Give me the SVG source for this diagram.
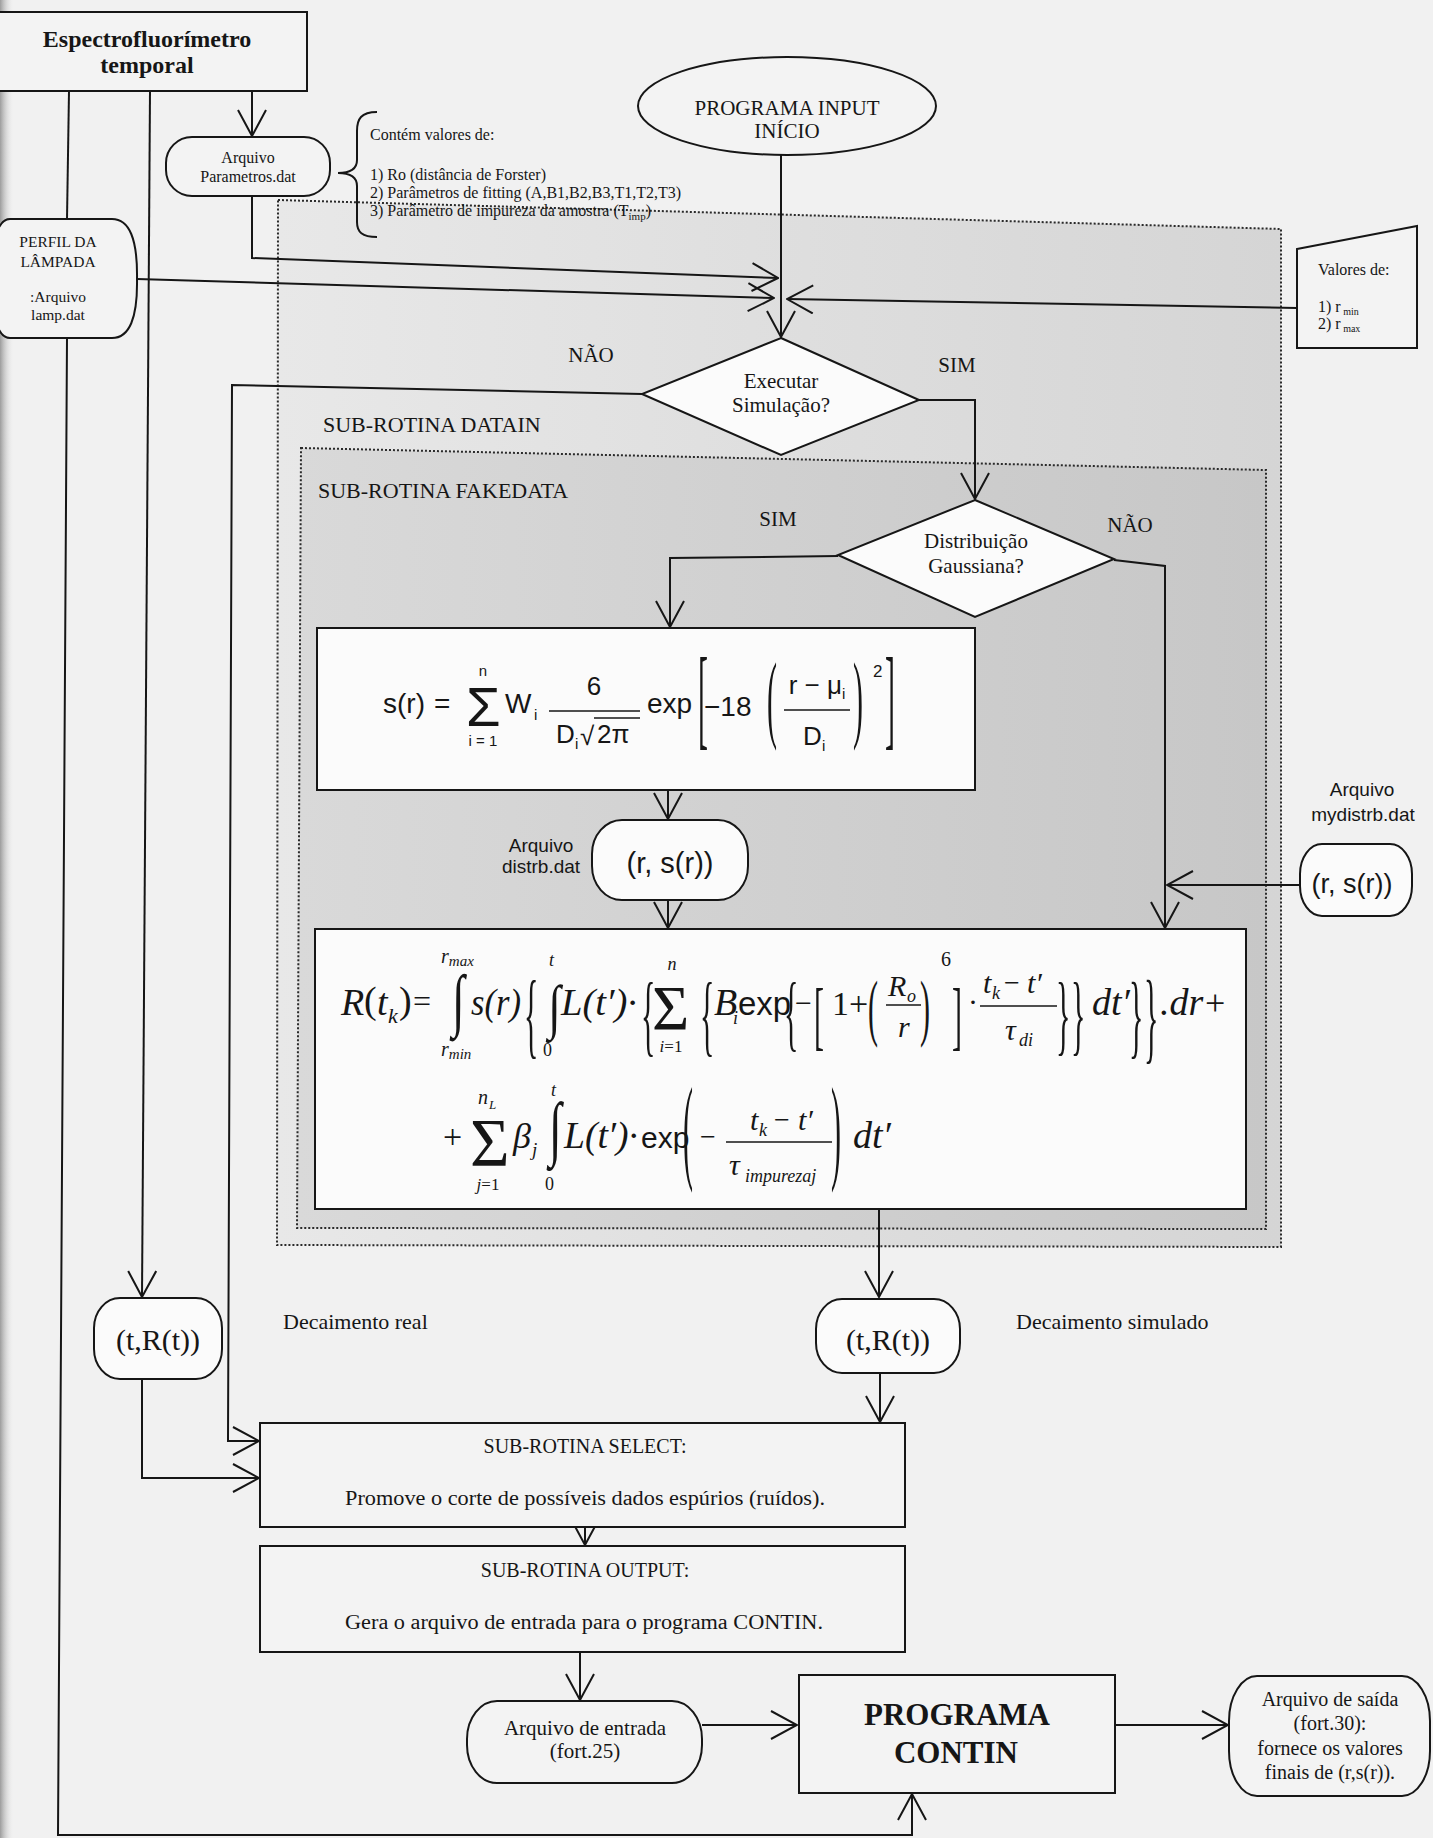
<svg xmlns="http://www.w3.org/2000/svg" width="1433" height="1838" viewBox="0 0 1433 1838">
<defs>
<style>
.ln{fill:none;stroke:#161616;stroke-width:2}
.ar{marker-end:url(#ah)}
.nd{fill:#fbfbfb;stroke:#161616;stroke-width:2}
.np{fill:#f3f3f3;stroke:#161616;stroke-width:2}
.dot{stroke:#2a2a2a;stroke-width:2;stroke-dasharray:2 2}
.t{font-family:"Liberation Serif","Times New Roman",serif;fill:#161616}
.s{font-family:"Liberation Sans",Arial,sans-serif;fill:#161616}
.i{font-style:italic}
.c{text-anchor:middle}
.b{font-weight:bold}
.fl{stroke:#161616;stroke-width:1.6}
</style>
<marker id="ah" viewBox="0 0 28 30" refX="27" refY="15" markerWidth="28" markerHeight="30" markerUnits="userSpaceOnUse" orient="auto"><path d="M1,1 L27,15 L1,29" fill="none" stroke="#161616" stroke-width="2"/></marker>
<linearGradient id="g1" x1="0" y1="0" x2="1" y2="0"><stop offset="0" stop-color="#e8e8e8"/><stop offset="1" stop-color="#d5d5d5"/></linearGradient>
<linearGradient id="g2" x1="0" y1="0" x2="1" y2="0"><stop offset="0" stop-color="#d9d9d9"/><stop offset="1" stop-color="#c7c7c7"/></linearGradient>
<linearGradient id="edge" x1="0" y1="0" x2="1" y2="0"><stop offset="0" stop-color="#9c9c9c"/><stop offset="1" stop-color="#f1f1f1" stop-opacity="0"/></linearGradient>
</defs>

<rect x="0" y="0" width="1433" height="1838" fill="#f1f1f1"/>
<rect x="0" y="0" width="14" height="1838" fill="url(#edge)"/>

<g id="region-datain">
<polygon points="278,200 1281,229 1281,1247 277,1245" fill="url(#g1)" class="dot"/>
<text class="t" x="323" y="432" font-size="22">SUB-ROTINA DATAIN</text>
</g>
<g id="region-fakedata">
<polygon points="301,448 1266,470 1266,1229 297,1228" fill="url(#g2)" class="dot"/>
<text class="t" x="318" y="498" font-size="22">SUB-ROTINA FAKEDATA</text>
</g>

<g id="connectors">
<path class="ln ar" d="M252,91 V136"/>
<path class="ln ar" d="M252,196 V258 L778,278"/>
<path class="ln ar" d="M137,279 L774,298"/>
<path class="ln ar" d="M1297,308 L787,299"/>
<path class="ln ar" d="M781,155 V337"/>
<path class="ln ar" d="M642,394 L232,385 L228,1441 H259"/>
<path class="ln ar" d="M919,400 H975 V499"/>
<path class="ln ar" d="M838,556 L670,558 V627"/>
<path class="ln ar" d="M1114,560 L1165,566 V928"/>
<path class="ln ar" d="M1300,885 H1167"/>
<path class="ln ar" d="M668,790 V819"/>
<path class="ln ar" d="M668,900 V928"/>
<path class="ln ar" d="M879,1209 V1297"/>
<path class="ln ar" d="M880,1373 V1422"/>
<path class="ln ar" d="M150,91 L142,1297"/>
<path class="ln ar" d="M142,1379 V1478 H259"/>
<path class="ln ar" d="M585,1527 V1545"/>
<path class="ln ar" d="M580,1652 V1700"/>
<path class="ln ar" d="M702,1725 H797"/>
<path class="ln ar" d="M1115,1725 H1228"/>
<path class="ln" d="M69,91 L67,219"/>
<path class="ln ar" d="M67,338 L58,1835 H912 V1794"/>
<text class="t" x="591" y="362" font-size="21" text-anchor="middle">NÃO</text>
<text class="t" x="957" y="372" font-size="21" text-anchor="middle">SIM</text>
<text class="t" x="778" y="526" font-size="21" text-anchor="middle">SIM</text>
<text class="t" x="1130" y="532" font-size="21" text-anchor="middle">NÃO</text>
</g>

<g id="espectro">
<rect x="-5" y="12" width="312" height="79" class="np"/>
<text class="t b c" x="147" y="47" font-size="24">Espectrofluorímetro</text>
<text class="t b c" x="147" y="73" font-size="24">temporal</text>
</g>

<g id="parametros">
<rect x="166" y="137" width="164" height="59" rx="26" ry="26" class="np"/>
<text class="t c" x="248" y="163" font-size="16">Arquivo</text>
<text class="t c" x="248" y="182" font-size="16">Parametros.dat</text>
</g>

<g id="nota-parametros">
<path class="ln" d="M377,112 C361,112 357,119 357,131 L357,160 C357,168 351,173 338,173 C351,173 357,178 357,186 L357,222 C357,232 362,237 377,237"/>
<text class="t" x="370" y="140" font-size="16">Contém valores de:</text>
<text class="t" x="370" y="180" font-size="16">1) Ro (distância de Forster)</text>
<text class="t" x="370" y="198" font-size="16">2) Parâmetros de fitting (A,B1,B2,B3,T1,T2,T3)</text>
<text class="t" x="370" y="216" font-size="16">3) Parâmetro de impureza da amostra (T<tspan dy="4" font-size="11">imp</tspan><tspan dy="-4">)</tspan></text>
</g>

<g id="lampada">
<path class="np" d="M10,219 H112 Q138,219 137,279 Q138,338 112,338 H10 Q-8,338 -8,279 Q-8,219 10,219 Z"/>
<text class="t c" x="58" y="247" font-size="15.5">PERFIL DA</text>
<text class="t c" x="58" y="267" font-size="15.5">LÂMPADA</text>
<text class="t c" x="58" y="302" font-size="15.5">:Arquivo</text>
<text class="t c" x="58" y="320" font-size="15.5">lamp.dat</text>
</g>

<g id="inicio">
<ellipse cx="787" cy="106" rx="149" ry="49" class="np"/>
<text class="t c" x="787" y="115" font-size="21">PROGRAMA INPUT</text>
<text class="t c" x="787" y="138" font-size="21">INÍCIO</text>
</g>

<g id="valores">
<polygon points="1297,249 1417,226 1417,348 1297,348" class="np"/>
<text class="t" x="1318" y="275" font-size="16">Valores de:</text>
<text class="t" x="1318" y="312" font-size="16">1) r<tspan dy="3" font-size="10"> min</tspan></text>
<text class="t" x="1318" y="329" font-size="16">2) r<tspan dy="3" font-size="10"> max</tspan></text>
</g>

<g id="executar">
<polygon points="781,338 919,400 781,455 642,394" class="nd"/>
<text class="t c" x="781" y="388" font-size="21">Executar</text>
<text class="t c" x="781" y="412" font-size="21">Simulação?</text>
</g>

<g id="gaussiana">
<polygon points="975,500 1114,559 975,617 838,555" class="nd"/>
<text class="t c" x="976" y="548" font-size="21">Distribuição</text>
<text class="t c" x="976" y="573" font-size="21">Gaussiana?</text>
</g>

<g id="formula-s">
<rect x="317" y="628" width="658" height="162" class="nd"/>
<text class="s" x="383" y="713" font-size="28">s(r)</text>
<text class="s" x="434" y="713" font-size="28">=</text>
<text class="s" x="466" y="726" font-size="56">Σ</text>
<text class="s c" x="483" y="676" font-size="15">n</text>
<text class="s c" x="483" y="746" font-size="15">i = 1</text>
<text class="s" x="505" y="713" font-size="28">W</text>
<text class="s" x="534" y="720" font-size="15">i</text>
<text class="s c" x="594" y="695" font-size="26">6</text>
<line class="fl" x1="549" y1="711" x2="640" y2="711"/>
<text class="s" x="556" y="743" font-size="26">D</text>
<text class="s" x="575" y="749" font-size="15">i</text>
<text class="s" x="580" y="745" font-size="26">√</text>
<line class="fl" x1="594" y1="718" x2="640" y2="718"/>
<text class="s" x="597" y="743" font-size="26">2π</text>
<text class="s" x="647" y="713" font-size="28">exp</text>
<text class="t" transform="translate(698,735) scale(1,3.77)" font-size="30">[</text>
<text class="s" x="704" y="716" font-size="28">−18</text>
<text class="t" transform="translate(767,729.5) scale(1,3.26)" font-size="30">(</text>
<text class="s c" x="817" y="694" font-size="26">r − μ<tspan dy="5" font-size="15">i</tspan></text>
<line class="fl" x1="784" y1="710" x2="850" y2="710"/>
<text class="s" x="803" y="745" font-size="26">D</text>
<text class="s" x="822" y="751" font-size="15">i</text>
<text class="t" transform="translate(853,729.5) scale(1,3.26)" font-size="30">)</text>
<text class="s" x="873" y="677" font-size="17">2</text>
<text class="t" transform="translate(885,735) scale(1,3.77)" font-size="30">]</text>
</g>

<g id="distrb">
<rect x="592" y="820" width="156" height="80" rx="30" ry="34" class="nd"/>
<text class="s c" x="670" y="873" font-size="29">(r, s(r))</text>
<text class="s c" x="541" y="852" font-size="19">Arquivo</text>
<text class="s c" x="541" y="873" font-size="19">distrb.dat</text>
</g>

<g id="mydistrb">
<rect x="1300" y="844" width="112" height="72" rx="22" ry="30" class="nd"/>
<text class="s c" x="1352" y="893" font-size="27">(r, s(r))</text>
<text class="s c" x="1362" y="796" font-size="19">Arquivo</text>
<text class="s c" x="1363" y="821" font-size="19">mydistrb.dat</text>
</g>

<g id="formula-R">
<rect x="315" y="929" width="931" height="280" class="nd"/>
<text class="t i" x="341" y="1015" font-size="38">R</text>
<text class="t" x="364" y="1013" font-size="38">(</text>
<text class="t i" x="377" y="1015" font-size="38">t</text>
<text class="t i" x="388" y="1023" font-size="22">k</text>
<text class="t" x="399" y="1013" font-size="38">)</text>
<text class="t" x="413" y="1012" font-size="32">=</text>
<text class="t i" x="441" y="963" font-size="20">r<tspan font-size="15" dy="3">max</tspan></text>
<text class="t" transform="translate(452,1023) scale(1,1.5)" font-size="46">∫</text>
<text class="t i" x="441" y="1056" font-size="20">r<tspan font-size="15" dy="3">min</tspan></text>
<text class="t i" x="471" y="1015" font-size="38" textLength="50" lengthAdjust="spacingAndGlyphs">s(r)</text>
<text class="t" transform="translate(524,1046) scale(1,3.19)" font-size="30">{</text>
<text class="t i" x="549" y="966" font-size="18">t</text>
<text class="t" transform="translate(548,1027) scale(1,1.3)" font-size="46">∫</text>
<text class="t" x="543" y="1056" font-size="18">0</text>
<text class="t i" x="561" y="1015" font-size="38" textLength="76" lengthAdjust="spacingAndGlyphs">L(t′)·</text>
<text class="t" transform="translate(641,1045) scale(1,3)" font-size="30">{</text>
<text class="t" x="652" y="1030" font-size="64">Σ</text>
<text class="t i c" x="672" y="970" font-size="18">n</text>
<text class="t c" x="671" y="1052" font-size="17"><tspan class="i">i</tspan>=1</text>
<text class="t" transform="translate(700,1045) scale(1,3)" font-size="30">{</text>
<text class="t i" x="714" y="1015" font-size="38">B</text>
<text class="t i" x="733" y="1024" font-size="18">i</text>
<text class="s" x="738" y="1015" font-size="33">exp</text>
<text class="t" transform="translate(784,1041) scale(1,2.82)" font-size="30">{</text>
<text class="t" x="795" y="1013" font-size="30">−</text>
<text class="t" transform="translate(814,1041) scale(1,2.56)" font-size="30">[</text>
<text class="t" x="832" y="1015" font-size="34">1+</text>
<text class="t" transform="translate(868,1031.6) scale(1,2.49)" font-size="30">(</text>
<text class="t i" x="888" y="996" font-size="30">R</text>
<text class="t i" x="907" y="1002" font-size="18">o</text>
<line class="fl" x1="886" y1="1005" x2="921" y2="1005"/>
<text class="t i" x="898" y="1037" font-size="30">r</text>
<text class="t" transform="translate(920,1031.6) scale(1,2.49)" font-size="30">)</text>
<text class="t" x="941" y="966" font-size="20">6</text>
<text class="t" transform="translate(952,1041) scale(1,2.56)" font-size="30">]</text>
<text class="t" x="968" y="1012" font-size="30">·</text>
<text class="t i" x="983" y="993" font-size="30">t</text>
<text class="t i" x="992" y="999" font-size="18">k</text>
<text class="t" x="1004" y="992" font-size="28">−</text>
<text class="t i" x="1027" y="993" font-size="30">t′</text>
<line class="fl" x1="980" y1="1006" x2="1057" y2="1006"/>
<text class="t i" x="1005" y="1040" font-size="30">τ</text>
<text class="t i" x="1019" y="1046" font-size="18">di</text>
<text class="t" transform="translate(1056,1043.7) scale(1,2.93)" font-size="30">}</text>
<text class="t" transform="translate(1071,1043.7) scale(1,2.93)" font-size="30">}</text>
<text class="t i" x="1092" y="1015" font-size="38">dt′</text>
<text class="t" transform="translate(1129,1046.7) scale(1,3.08)" font-size="30">}</text>
<text class="t" transform="translate(1144,1049.8) scale(1,3.37)" font-size="30">}</text>
<text class="t i" x="1160" y="1015" font-size="38">.dr</text>
<text class="t" x="1205" y="1015" font-size="36">+</text>

<text class="t" x="443" y="1148" font-size="34">+</text>
<text class="t" x="470" y="1165" font-size="68">Σ</text>
<text class="t i" x="478" y="1104" font-size="20">n</text>
<text class="t i" x="489" y="1109" font-size="13">L</text>
<text class="t c" x="488" y="1190" font-size="17"><tspan class="i">j</tspan>=1</text>
<text class="t i" x="513" y="1148" font-size="36">β</text>
<text class="t i" x="532" y="1156" font-size="19">j</text>
<text class="t i" x="551" y="1096" font-size="18">t</text>
<text class="t" transform="translate(549,1152) scale(1,1.55)" font-size="46">∫</text>
<text class="t" x="545" y="1190" font-size="18">0</text>
<text class="t i" x="564" y="1148" font-size="38" textLength="74" lengthAdjust="spacingAndGlyphs">L(t′)·</text>
<text class="s" x="641" y="1148" font-size="30">exp</text>
<text class="t" transform="translate(683,1167.6) scale(1,3.85)" font-size="30">(</text>
<text class="t" x="700" y="1146" font-size="28">−</text>
<text class="t i" x="750" y="1130" font-size="30">t</text>
<text class="t i" x="759" y="1136" font-size="18">k</text>
<text class="t" x="774" y="1129" font-size="28">−</text>
<text class="t i" x="798" y="1130" font-size="30">t′</text>
<line class="fl" x1="726" y1="1142" x2="832" y2="1142"/>
<text class="t i" x="729" y="1175" font-size="30">τ</text>
<text class="t i" x="745" y="1182" font-size="18">impurezaj</text>
<text class="t" transform="translate(831,1167.6) scale(1,3.85)" font-size="30">)</text>
<text class="t i" x="853" y="1148" font-size="38">dt′</text>
</g>

<g id="trt-real">
<rect x="94" y="1298" width="128" height="81" rx="26" ry="30" class="nd"/>
<text class="t c" x="158" y="1350" font-size="30">(t,R(t))</text>
<text class="t" x="283" y="1329" font-size="22">Decaimento real</text>
</g>

<g id="trt-simulado">
<rect x="816" y="1299" width="144" height="74" rx="26" ry="30" class="nd"/>
<text class="t c" x="888" y="1350" font-size="30">(t,R(t))</text>
<text class="t" x="1016" y="1329" font-size="22">Decaimento simulado</text>
</g>

<g id="select">
<rect x="260" y="1423" width="645" height="104" class="np"/>
<text class="t c" x="585" y="1453" font-size="20">SUB-ROTINA SELECT:</text>
<text class="t" x="345" y="1505" font-size="20" textLength="480" lengthAdjust="spacingAndGlyphs">Promove o corte de possíveis dados espúrios (ruídos).</text>
</g>

<g id="output">
<rect x="260" y="1546" width="645" height="106" class="np"/>
<text class="t c" x="585" y="1577" font-size="20">SUB-ROTINA OUTPUT:</text>
<text class="t" x="345" y="1629" font-size="20" textLength="478" lengthAdjust="spacingAndGlyphs">Gera o arquivo de entrada para o programa CONTIN.</text>
</g>

<g id="entrada">
<rect x="467" y="1701" width="235" height="82" rx="30" ry="38" class="np"/>
<text class="t c" x="585" y="1735" font-size="21">Arquivo de entrada</text>
<text class="t c" x="585" y="1758" font-size="21">(fort.25)</text>
</g>

<g id="contin">
<rect x="799" y="1675" width="316" height="118" class="np"/>
<text class="t b c" x="957" y="1725" font-size="31">PROGRAMA</text>
<text class="t b c" x="956" y="1763" font-size="31">CONTIN</text>
</g>

<g id="saida">
<rect x="1229" y="1676" width="201" height="120" rx="28" ry="45" class="np"/>
<text class="t c" x="1330" y="1706" font-size="20">Arquivo de saída</text>
<text class="t c" x="1330" y="1730" font-size="20">(fort.30):</text>
<text class="t c" x="1330" y="1755" font-size="20">fornece os valores</text>
<text class="t c" x="1330" y="1779" font-size="20">finais de (r,s(r)).</text>
</g>
</svg>
